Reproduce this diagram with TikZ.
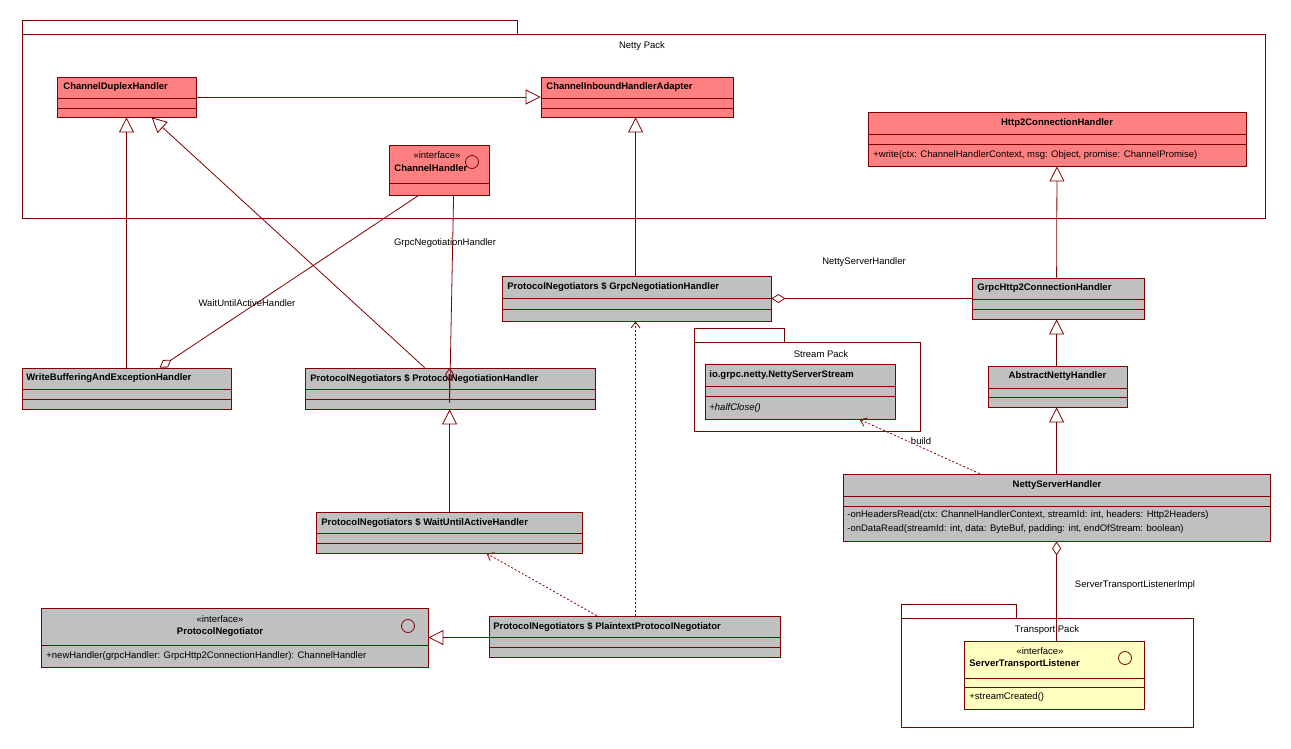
\documentclass[tikz,border=0pt]{standalone}
\usepackage{fontspec}
\setmainfont{Liberation Sans}
\usetikzlibrary{arrows.meta,fit}
\definecolor{dred}{HTML}{800000}
\definecolor{rfill}{HTML}{FF8080}
\definecolor{gfill}{HTML}{C0C0C0}
\definecolor{yfill}{HTML}{FFFFC0}
\newcommand\umlbox[8]{%
  \path[draw=dred,fill=#6] (#2,#3) rectangle (#4,#5);
  \draw[dred] (#2,#7) -- (#4,#7) (#2,#8) -- (#4,#8);
  \path (#2,#3) coordinate (#1nw) (#4,#5) coordinate (#1se);
  \node[fit=(#1nw)(#1se),inner sep=0pt] (#1) {};}
\begin{document}
\begin{tikzpicture}[x=1pt,y=-1pt,font=\fontsize{9.5}{11}\selectfont,
  line width=0.8pt,
  t/.style={inner sep=0pt,anchor=west},
  b/.style={inner sep=0pt,font=\fontsize{9.5}{11}\selectfont\bfseries},
  lab/.style={inner sep=1pt},
  gen/.style={dred,-{Triangle[open,length=15pt,width=15pt]}},
  dep/.style={dred,dashed,dash pattern=on 2pt off 2pt,-{Straight Barb[length=6pt,width=9pt]}},
  agg/.style={dred,{Diamond[open,length=14pt,width=9pt]}-},
  pk/.style={draw=dred,fill=white}]
\useasboundingbox (0,0) rectangle (1291,748);
% packages
\draw[pk] (22,20) rectangle (517,34);
\draw[pk] (22,34) rectangle (1265,218);
\node[lab] (npk) at (642,46) {Netty Pack};
\draw[pk] (694,328) rectangle (784,342);
\draw[pk] (694,342) rectangle (920,431);
\node[lab] (spk) at (821,354) {Stream Pack};
\draw[pk] (901,604) rectangle (1016,618);
\draw[pk] (901,618) rectangle (1193,727);
\node[lab] (tpk) at (1047,630) {Transport Pack};
% classes
\umlbox{cdh}{57}{77}{196}{117}{rfill}{98}{108}
\node[b,anchor=west] at (63,87.5) {ChannelDuplexHandler};
\umlbox{cia}{541}{77}{733}{117}{rfill}{98}{108}
\node[b,anchor=west] at (546,87.5) {ChannelInboundHandlerAdapter};
\umlbox{h2c}{868}{112}{1246}{166}{rfill}{134}{144}
\node[b] at (1057,123) {Http2ConnectionHandler};
\node[t] at (873,155) {+write(ctx: ChannelHandlerContext, msg: Object, promise: ChannelPromise)};
\umlbox{ch}{389}{145}{489}{195}{rfill}{183}{183}
\node[inner sep=0pt] at (437,155.5) {<<interface>>};
\node[b,anchor=west] at (394,168) {ChannelHandler};
\draw[dred] (472,162) circle (6.5);
\umlbox{wb}{22}{368}{231}{409}{gfill}{389}{399}
\node[b,anchor=west] at (26,378.5) {WriteBufferingAndExceptionHandler};
\umlbox{pnh}{305}{368}{595}{409}{gfill}{389}{399}
\node[b,anchor=west] at (310,378.5) {ProtocolNegotiators \$ ProtocolNegotiationHandler};
\umlbox{gnh}{502}{276}{771}{321}{gfill}{298}{309}
\node[b,anchor=west] at (507,286.5) {ProtocolNegotiators \$ GrpcNegotiationHandler};
\umlbox{gh2}{972}{278}{1144}{319}{gfill}{299}{309}
\node[b,anchor=west] at (977,288.5) {GrpcHttp2ConnectionHandler};
\umlbox{nss}{705}{364}{895}{419}{gfill}{386}{396}
\node[b,anchor=west] at (709,375) {io.grpc.netty.NettyServerStream};
\node[t,font=\fontsize{9.5}{11}\selectfont\itshape] at (709,408) {+halfClose()};
\umlbox{anh}{988}{366}{1127}{407}{gfill}{388}{397}
\node[b] at (1057.5,376.5) {AbstractNettyHandler};
\umlbox{nsh}{843}{474}{1270}{541}{gfill}{496}{506}
\node[b] at (1057,485) {NettyServerHandler};
\node[t] at (847,515.5) {-onHeadersRead(ctx: ChannelHandlerContext, streamId: int, headers: Http2Headers)};
\node[t] at (847,529) {-onDataRead(streamId: int, data: ByteBuf, padding: int, endOfStream: boolean)};
\umlbox{wua}{316}{512}{582}{553}{gfill}{533}{543}
\node[b,anchor=west] at (321,522.5) {ProtocolNegotiators \$ WaitUntilActiveHandler};
\umlbox{pn}{41}{608}{428}{667}{gfill}{645}{645}
\node[inner sep=0pt] at (220,619) {<<interface>>};
\node[b] at (220,632) {ProtocolNegotiator};
\draw[dred] (408,626) circle (6.5);
\node[t] at (46,656) {+newHandler(grpcHandler: GrpcHttp2ConnectionHandler): ChannelHandler};
\umlbox{ppn}{489}{616}{780}{657}{gfill}{637}{647}
\node[b,anchor=west] at (493,626.5) {ProtocolNegotiators \$ PlaintextProtocolNegotiator};
\umlbox{stl}{964}{641}{1144}{709}{yfill}{678}{687}
\node[inner sep=0pt] at (1040,651) {<<interface>>};
\node[b,anchor=west] at (969,664) {ServerTransportListener};
\draw[dred] (1125,658) circle (6.5);
\node[t] at (969,697) {+streamCreated()};
% connectors
\draw[gen] (cdh.east) -- (cia.west |- cdh.east);
\draw[gen] (wb.north) -- (wb.north |- cdh.south);
\draw[gen] ([xshift=120pt]pnh.north west) -- ([xshift=95pt]cdh.south west);
\draw[agg] ([xshift=138pt]wb.north west) -- ([xshift=30pt]ch.south west);
\draw[agg] ([xshift=145pt]pnh.north west) -- ([xshift=145pt,yshift=-35pt]pnh.north west) -- ([xshift=65pt]ch.south west);
\node[lab] at (247,303) {WaitUntilActiveHandler};
\node[lab] at (445,243) {GrpcNegotiationHandler};
\draw[gen] ([xshift=134pt]gnh.north west) -- ([xshift=95pt]cia.south west);
\draw[agg] (gnh.east |- gh2.west) -- (gh2.west);
\node[lab] at (864,262) {NettyServerHandler};
\draw[gen] ([xshift=85pt]gh2.north west) -- (h2c.south);
\draw[gen] ([xshift=69pt]anh.north west) -- ([xshift=85pt]gh2.south west);
\draw[gen] ([xshift=214pt]nsh.north west) -- ([xshift=69pt]anh.south west);
\draw[dep] ([xshift=137pt]nsh.north west) -- ([xshift=155pt]nss.south west);
\node[lab,fill=white,inner sep=0.5pt] at (921,441) {build};
\draw[agg] ([xshift=214pt]nsh.south west) -- ([xshift=93pt]stl.north west);
\node[lab] at (1135,585) {ServerTransportListenerImpl};
\draw[gen] ([xshift=134pt]wua.north west) -- ([xshift=145pt]pnh.south west);
\draw[dep] ([xshift=108pt]ppn.north west) -- ([xshift=171pt]wua.south west);
\draw[dep] ([xshift=147pt]ppn.north west) -- ([xshift=134pt]gnh.south west);
\draw[gen] (ppn.west |- pn.east) -- (pn.east);
\end{tikzpicture}
\end{document}
